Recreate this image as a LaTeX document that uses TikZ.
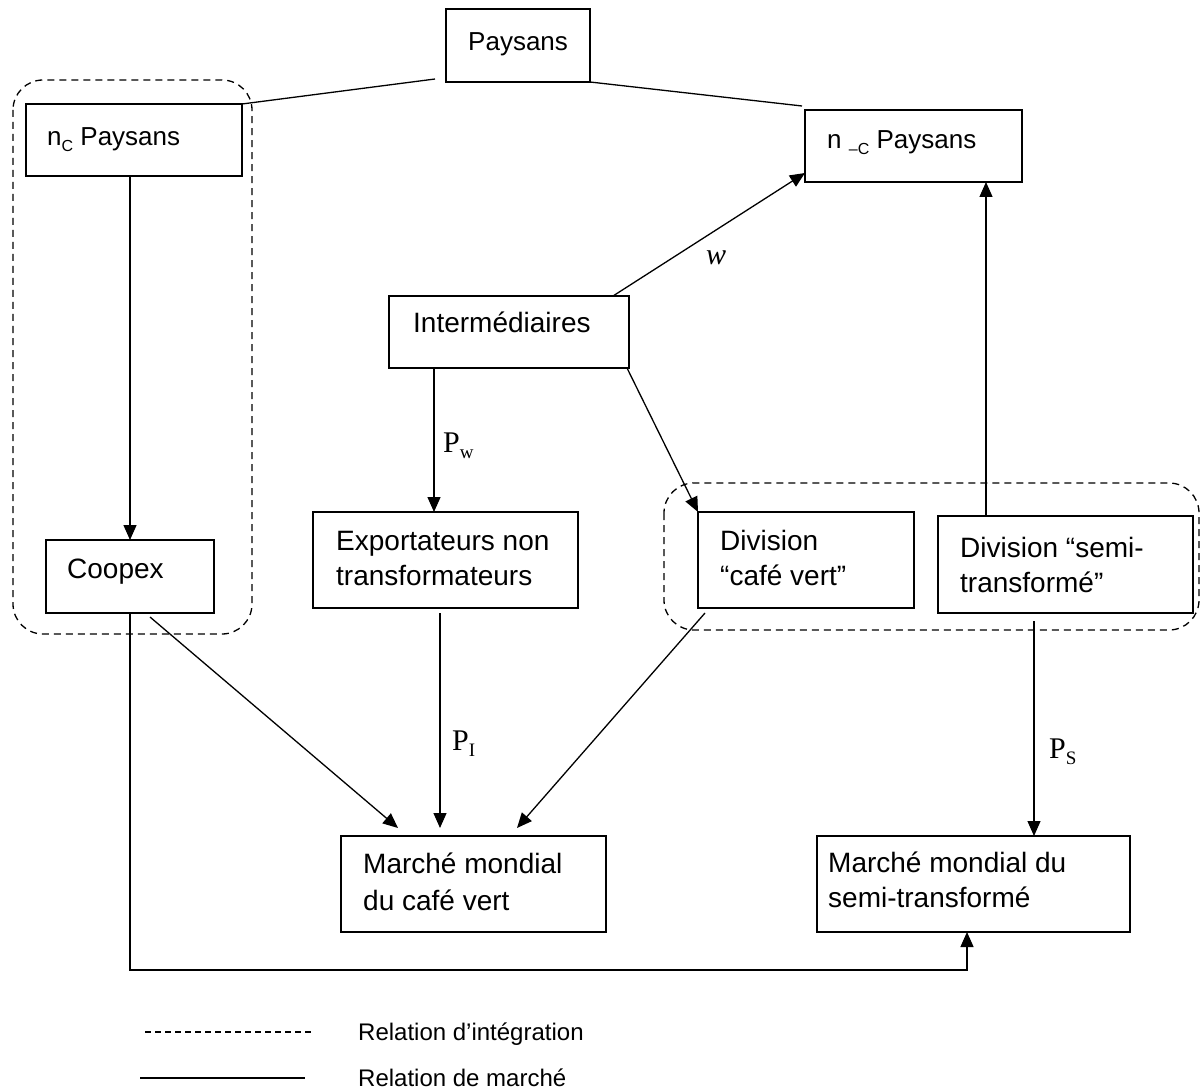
\documentclass[tikz,border=0pt]{standalone}
\usepackage{fontspec}
\setmainfont{Liberation Sans}
\newfontfamily\seriffam{Liberation Serif}
\usetikzlibrary{arrows.meta}
\newcommand{\subC}[1]{\raisebox{-0.22em}{\fontsize{16}{16}\selectfont #1}}
\newcommand{\plab}[1]{{\seriffam P\raisebox{-0.2em}{\fontsize{19}{19}\selectfont #1}}}
\begin{document}
\begin{tikzpicture}[x=1pt,y=-1pt,
  box/.style={draw, line width=1.5pt, inner sep=0pt, outer sep=0pt, anchor=north west},
  txt/.style={inner sep=0pt, anchor=base west, font=\fontsize{28}{34}\selectfont},
  ptxt/.style={inner sep=0pt, anchor=base west, font=\fontsize{26}{32}\selectfont},
  lgd/.style={inner sep=0pt, anchor=base west, font=\fontsize{24}{28}\selectfont},
  plabel/.style={inner sep=0pt, anchor=base west, font=\fontsize{30}{34}\selectfont},
  conn/.style={line width=1.3pt},
  arr/.style={line width=1.3pt, -{Triangle[length=15pt,width=13pt]}},
  integ/.style={dashed, dash pattern=on 7pt off 5pt, line width=1.3pt, rounded corners=30pt}]
\useasboundingbox (0,0) rectangle (1202,1091);

% dashed integration groups
\draw[integ] (13,80) rectangle (252,634);
\draw[integ] (664,483) rectangle (1199,630);

% boxes
\node[box, minimum width=144pt, minimum height=73pt] (paysans) at (446,9) {};
\node[box, minimum width=216pt, minimum height=72pt] (nc) at (26,104) {};
\node[box, minimum width=217pt, minimum height=72pt] (nmc) at (805,110) {};
\node[box, minimum width=240pt, minimum height=72pt] (intermed) at (389,296) {};
\node[box, minimum width=265pt, minimum height=96pt] (export) at (313,512) {};
\node[box, minimum width=168pt, minimum height=73pt] (coopex) at (46,540) {};
\node[box, minimum width=216pt, minimum height=96pt] (cafe) at (698,512) {};
\node[box, minimum width=255pt, minimum height=97pt] (semi) at (938,516) {};
\node[box, minimum width=265pt, minimum height=96pt] (mc) at (341,836) {};
\node[box, minimum width=313pt, minimum height=96pt] (ms) at (817,836) {};

% texts
\node[ptxt] (paysansT) at (468,51) {Paysans};
\node[ptxt] (ncT) at (47,146) {n\subC{C} Paysans};
\node[ptxt] (nmcT) at (827,149) {n \subC{–C} Paysans};
\node[txt] (intermedT) at (413,333) {Intermédiaires};
\node[txt] (exportT1) at (336,550) {Exportateurs non};
\node[txt] (exportT2) at (336,585) {transformateurs};
\node[txt] (coopexT) at (67,578) {Coopex};
\node[txt] (cafeT1) at (720,550) {Division};
\node[txt] (cafeT2) at (720,585) {“café vert”};
\node[txt] (semiT1) at (960,557) {Division “semi-};
\node[txt] (semiT2) at (960,592) {transformé”};
\node[txt] (mcT1) at (363,873) {Marché mondial};
\node[txt] (mcT2) at (363,910) {du café vert};
\node[txt] (msT1) at (828,872) {Marché mondial du};
\node[txt] (msT2) at (828,907) {semi-transformé};

% helper coordinates
\coordinate (xpw) at (434,0);
\coordinate (xpi) at (440,0);
\coordinate (xsup) at (986,0);
\coordinate (xps) at (1034,0);
\coordinate (cb) at (130,970);
\coordinate (ce) at (967,970);

% connectors
\draw[conn] ([xshift=-11pt,yshift=3pt]paysans.south west) -- (nc.north east);
\draw[conn] (paysans.south east) -- ([xshift=-3pt,yshift=4pt]nmc.north west);
\draw[arr] (nc.south -| coopex.north) -- (coopex.north);
\draw[arr] ([xshift=-16pt]intermed.north east) -- ([yshift=9pt]nmc.south west);
\draw[arr] (intermed.south -| xpw) -- (export.north -| xpw);
\draw[arr] ([xshift=-2pt]intermed.south east) -- (cafe.north west);
\draw[arr] (semi.north -| xsup) -- (nmc.south -| xsup);
\draw[arr] ([xshift=20pt,yshift=-4pt]coopex.south) -- ([xshift=57pt,yshift=8pt]mc.north west);
\draw[arr] ([yshift=-5pt]export.south -| xpi) -- ([yshift=8pt]mc.north -| xpi);
\draw[arr] ([xshift=7pt,yshift=-5pt]cafe.south west) -- ([xshift=176pt,yshift=8pt]mc.north west);
\draw[arr] ([yshift=-8pt]semi.south -| xps) -- (ms.north -| xps);
\draw[arr] (coopex.south) -- (cb) -- (ce) -- (ce |- ms.south);

% connector labels
\node[plabel, font=\fontsize{30}{34}\selectfont\seriffam\itshape] (wlab) at (706,265) {w};
\node[plabel] (pwlab) at (443,452) {\plab{w}};
\node[plabel] (pilab) at (452,750) {\plab{I}};
\node[plabel] (pslab) at (1049,758) {\plab{S}};

% legend
\coordinate (l1a) at (145,1032);
\coordinate (l1b) at (313,1032);
\coordinate (l2a) at (140,1078);
\coordinate (l2b) at (305,1078);
\draw[dashed, dash pattern=on 6pt off 4pt, line width=1.3pt] (l1a) -- (l1b);
\draw[conn] (l2a) -- (l2b);
\node[lgd] (lg1) at (358,1040) {Relation d’intégration};
\node[lgd] (lg2) at (358,1086) {Relation de marché};
\end{tikzpicture}
\end{document}
